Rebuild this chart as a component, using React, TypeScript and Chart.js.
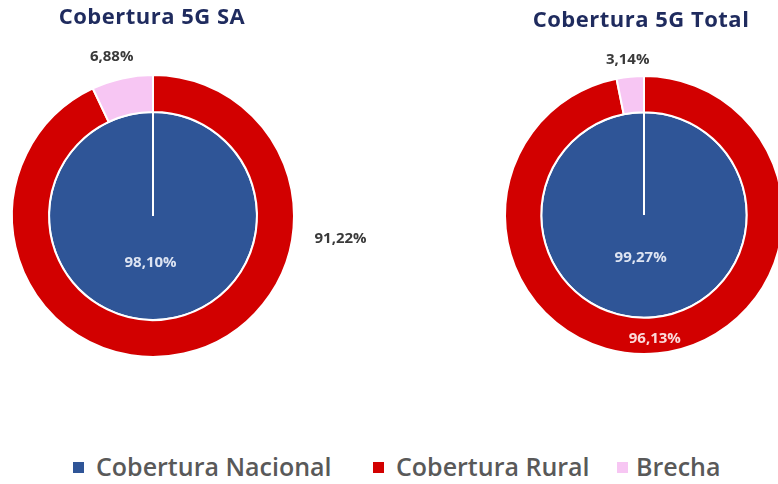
import React, { useEffect, useRef } from "react";
import { Chart, registerables } from "chart.js";

Chart.register(...registerables);

// ---- Data ----
const categories = ["Cobertura Nacional", "Cobertura Rural", "Brecha"];
const colors = ["#2F5597", "#D20000", "#F7C6F3"];

const saTitle = "Cobertura 5G SA";
const saNacional = [98.1, 0, 0];
const saRuralBrecha = [0, 91.22, 6.88];

const totalTitle = "Cobertura 5G Total";
const totalNacional = [99.27, 0, 0];
const totalRuralBrecha = [0, 96.13, 3.14];

// ---- Layout (legend item x positions: square, text) ----
const legendSquareX = [73, 373, 617];
const legendTextX = [96, 396, 636];

const fmt = (v: number) => v.toFixed(2).replace(".", ",") + "%";

const DARK = "#3A3A3A";

const sliceLabels = {
  id: "sliceLabels",
  afterDatasetsDraw(chart: any, _a: any, opts: any) {
    const ctx = chart.ctx;
    const placements = opts.placements || [];
    chart.data.datasets.forEach((ds: any, di: number) => {
      const meta = chart.getDatasetMeta(di);
      meta.data.forEach((el: any, i: number) => {
        const v = ds.data[i];
        const p = placements[di] && placements[di][i];
        if (!v || !p) return;
        const { x, y, startAngle, endAngle, outerRadius } = el.getProps(
          ["x", "y", "startAngle", "endAngle", "outerRadius"],
          true
        );
        const ang = p.angle != null ? ((p.angle - 90) * Math.PI) / 180 : (startAngle + endAngle) / 2;
        const r = p.outside != null ? outerRadius + p.outside : p.rf * outerRadius;
        ctx.save();
        ctx.font = p.font;
        ctx.fillStyle = p.color;
        ctx.textAlign = "center";
        ctx.textBaseline = "middle";
        ctx.fillText(fmt(v), x + Math.cos(ang) * r, y + Math.sin(ang) * r);
        ctx.restore();
      });
    });
  },
};

const chartTitle = {
  id: "chartTitle",
  afterDraw(chart: any, _a: any, opts: any) {
    const ctx = chart.ctx;
    const ca = chart.chartArea;
    ctx.save();
    ctx.font = opts.font;
    try {
      (ctx as any).letterSpacing = opts.letterSpacing || "0px";
    } catch (e) {}
    ctx.fillStyle = opts.color;
    ctx.textAlign = "center";
    ctx.textBaseline = "middle";
    ctx.fillText(opts.text, (ca.left + ca.right) / 2 + (opts.dx || 0), opts.y);
    ctx.restore();
  },
};

type PieProps = {
  title: string;
  nacional: number[];
  ruralBrecha: number[];
  width: number;
  height: number;
  left: number;
  padding: { left: number; right: number; top: number; bottom: number };
  ringWeight: number;
  pieWeight: number;
  placements: any[];
  titleY: number;
  titleDx: number;
};

function Pie(props: PieProps) {
  const ref = useRef<HTMLCanvasElement | null>(null);
  useEffect(() => {
    if (!ref.current) return;
    const chart = new Chart(ref.current, {
      type: "doughnut",
      data: {
        labels: categories,
        datasets: [
          {
            data: props.ruralBrecha,
            backgroundColor: colors,
            borderColor: "#ffffff",
            borderWidth: 2,
            weight: props.ringWeight,
          } as any,
          {
            data: props.nacional,
            backgroundColor: colors,
            borderColor: "#ffffff",
            borderWidth: 2,
            weight: props.pieWeight,
          } as any,
        ],
      },
      options: {
        responsive: false,
        animation: false,
        cutout: 0,
        layout: { padding: props.padding },
        plugins: {
          legend: { display: false },
          tooltip: { enabled: false },
          sliceLabels: { placements: props.placements },
          chartTitle: {
            text: props.title,
            y: props.titleY,
            dx: props.titleDx,
            font: "bold 22px 'Open Sans'",
            letterSpacing: "0.5px",
            color: "#1F2B5E",
          },
        } as any,
      },
      plugins: [sliceLabels, chartTitle],
    });
    return () => chart.destroy();
  }, []);
  return (
    <canvas
      ref={ref}
      width={props.width}
      height={props.height}
      style={{ position: "absolute", left: props.left, top: 0, width: props.width, height: props.height }}
    />
  );
}

const labelFontDark = "bold 15px 'Open Sans'";
const labelFontIn = "bold 15px 'Open Sans'";

export default function App() {
  return (
    <div
      style={{
        position: "fixed",
        left: 0,
        top: 0,
        width: 778,
        height: 484,
        overflow: "hidden",
        background: "#ffffff",
      }}
    >
      <Pie
        title={saTitle}
        nacional={saNacional}
        ruralBrecha={saRuralBrecha}
        width={389}
        height={400}
        left={0}
        padding={{ left: 11, right: 94, top: 74, bottom: 42 }}
        ringWeight={37}
        pieWeight={104}
        titleY={18}
        titleDx={-1}
        placements={[
          [null, { angle: 97, rf: 1.34, font: labelFontDark, color: DARK }, { angle: -14.5, outside: 24, font: labelFontDark, color: DARK }],
          [{ angle: 183, rf: 0.45, font: labelFontIn, color: "#DDE4F2" }, null, null],
        ]}
      />
      <Pie
        title={totalTitle}
        nacional={totalNacional}
        ruralBrecha={totalRuralBrecha}
        width={400}
        height={400}
        left={389}
        padding={{ left: 115, right: 5, top: 75, bottom: 45 }}
        ringWeight={36}
        pieWeight={102}
        titleY={21}
        titleDx={-3}
        placements={[
          [null, { angle: 175, rf: 0.89, font: labelFontIn, color: "#FBDADA" }, { angle: -6, outside: 17, font: labelFontDark, color: DARK }],
          [{ angle: 184.5, rf: 0.42, font: labelFontIn, color: "#DDE4F2" }, null, null],
        ]}
      />
      {categories.map((c, i) => (
        <React.Fragment key={c}>
          <span
            style={{
              position: "absolute",
              left: legendSquareX[i],
              top: 462,
              width: 11,
              height: 11,
              background: colors[i],
            }}
          />
          <span
            style={{
              position: "absolute",
              left: legendTextX[i],
              top: 451,
              fontFamily: "'Open Sans'",
              fontWeight: 600,
              fontSize: 25,
              lineHeight: "30px",
              color: "#595959",
              whiteSpace: "nowrap",
            }}
          >
            {c}
          </span>
        </React.Fragment>
      ))}
    </div>
  );
}
